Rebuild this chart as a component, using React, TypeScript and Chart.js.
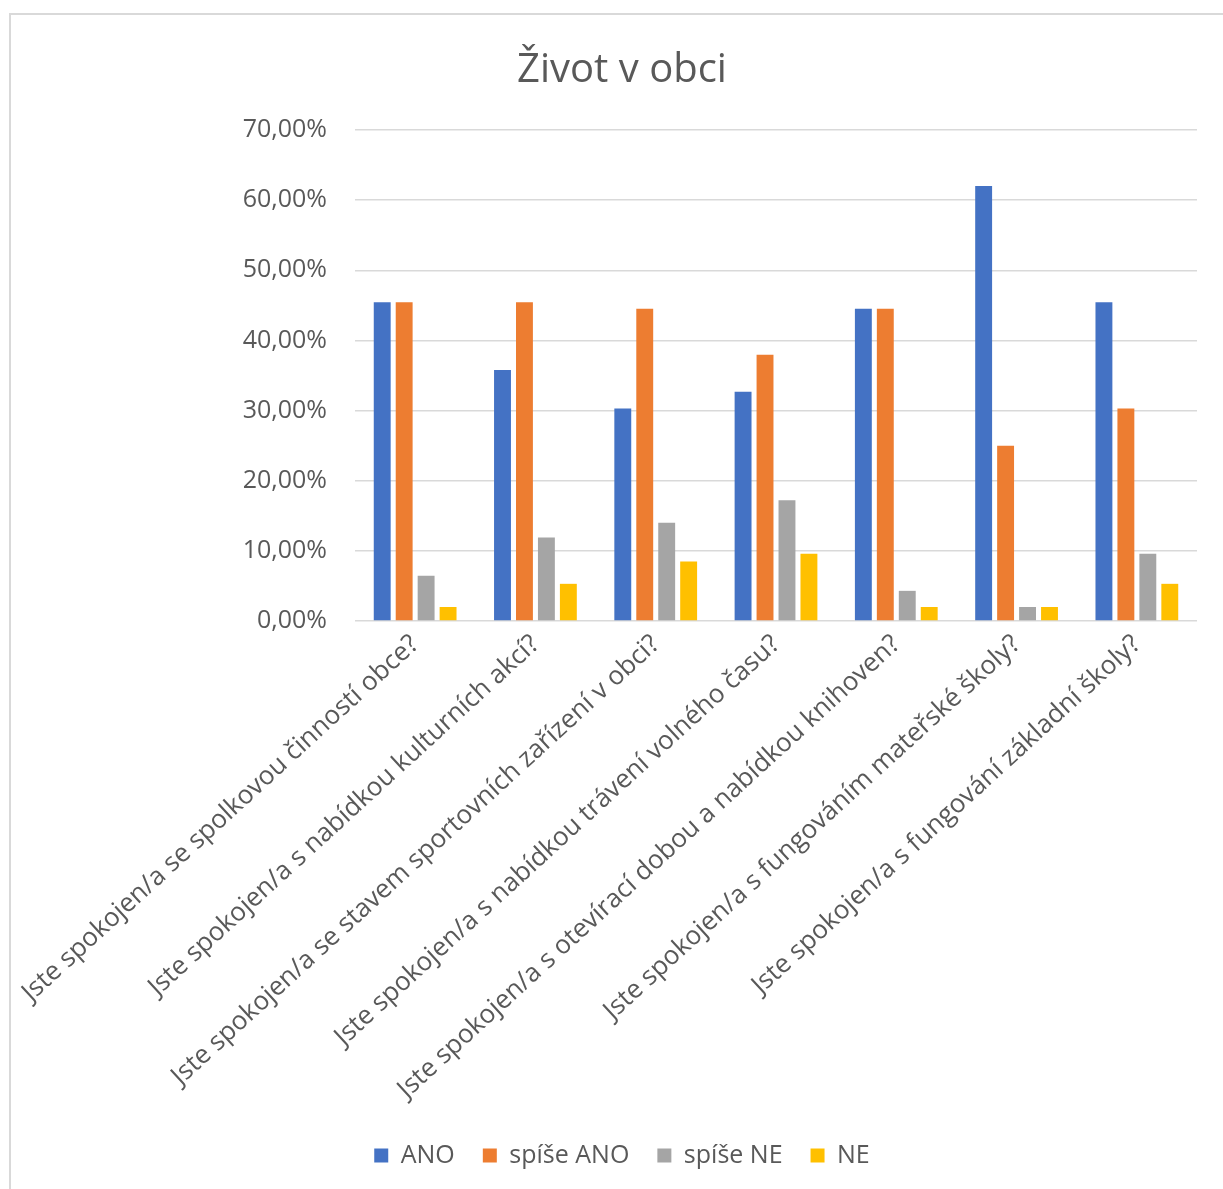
import React, { useEffect, useRef } from "react";
import { Chart, registerables } from "chart.js";

Chart.register(...registerables);

const categories: string[] = [
  "Jste spokojen/a se spolkovou činností obce?",
  "Jste spokojen/a s nabídkou kulturních akcí?",
  "Jste spokojen/a se stavem sportovních zařízení v obci?",
  "Jste spokojen/a s nabídkou trávení volného času?",
  "Jste spokojen/a s otevírací dobou a nabídkou knihoven?",
  "Jste spokojen/a s fungováním mateřské školy?",
  "Jste spokojen/a s fungování základní školy?",
];

const seriesNames: string[] = ["ANO", "spíše ANO", "spíše NE", "NE"];

const ano: number[] = [45.45, 35.8, 30.3, 32.7, 44.5, 62.0, 45.45];
const spiseAno: number[] = [45.45, 45.45, 44.5, 37.95, 44.5, 25.0, 30.3];
const spiseNe: number[] = [6.45, 11.9, 14.0, 17.2, 4.3, 2.0, 9.6];
const ne: number[] = [2.0, 5.3, 8.5, 9.6, 2.0, 2.0, 5.3];

const colors: string[] = ["#4472C4", "#ED7D31", "#A5A5A5", "#FFC000"];

const yTicks: number[] = [0, 10, 20, 30, 40, 50, 60, 70];

const FONT = "'Open Sans', 'DejaVu Sans', sans-serif";
const TEXT = "#595959";

export default function App() {
  const ref = useRef<HTMLCanvasElement | null>(null);

  useEffect(() => {
    if (!ref.current) return;
    const borderPlugin = {
      id: "outerBorder",
      beforeDraw(chart: any) {
        const ctx = chart.ctx;
        ctx.save();
        ctx.fillStyle = "#ffffff";
        ctx.fillRect(0, 0, chart.width, chart.height);
        ctx.strokeStyle = "#d9d9d9";
        ctx.lineWidth = 2;
        ctx.strokeRect(10, 14, chart.width + 20, chart.height + 20);
        ctx.restore();
      },
    };
    const values = [ano, spiseAno, spiseNe, ne];
    const chart = new Chart(ref.current, {
      type: "bar",
      data: {
        labels: categories,
        datasets: seriesNames.map((name, i) => ({
          label: name,
          data: values[i],
          backgroundColor: colors[i],
          borderWidth: 0,
          barPercentage: 0.77,
          categoryPercentage: 0.73,
        })),
      },
      plugins: [borderPlugin],
      options: {
        responsive: false,
        animation: false,
        devicePixelRatio: 1,
        layout: { padding: { left: 47, right: 26, top: 18, bottom: 11 } },
        plugins: {
          title: {
            display: true,
            text: "Život v obci",
            color: TEXT,
            font: { family: FONT, size: 40, weight: "normal", lineHeight: 1.2 },
            padding: { top: 29, bottom: 35 },
          },
          legend: {
            position: "bottom",
            labels: {
              color: TEXT,
              font: { family: FONT, size: 25 },
              boxWidth: 14,
              boxHeight: 14,
              padding: 28,
            },
          },
          tooltip: { enabled: false },
        },
        scales: {
          x: {
            grid: { display: false, drawTicks: false },
            border: { display: false },
            ticks: {
              color: TEXT,
              font: { family: FONT, size: 26 },
              maxRotation: 42.5,
              minRotation: 42.5,
              padding: 8,
              autoSkip: false,
            },
            afterFit(scale: any) {
              scale.height = 494;
              scale.paddingLeft = 0;
              scale.paddingRight = 0;
            },
          },
          y: {
            min: 0,
            max: 70,
            afterBuildTicks(scale: any) {
              scale.ticks = yTicks.map((v) => ({ value: v }));
            },
            grid: { color: "#d9d9d9", lineWidth: 1.5, drawTicks: false },
            border: { display: false },
            ticks: {
              color: TEXT,
              font: { family: FONT, size: 25 },
              padding: 28,
              callback: (v: any) => Number(v).toFixed(2).replace(".", ",") + "%",
            },
            afterFit(scale: any) {
              scale.width = 308;
            },
          },
        },
      },
    });
    return () => chart.destroy();
  }, []);

  return (
    <div style={{ position: "absolute", left: 0, top: 0, width: 1223, height: 1189, background: "#fff" }}>
      <canvas ref={ref} width={1223} height={1189} />
    </div>
  );
}
